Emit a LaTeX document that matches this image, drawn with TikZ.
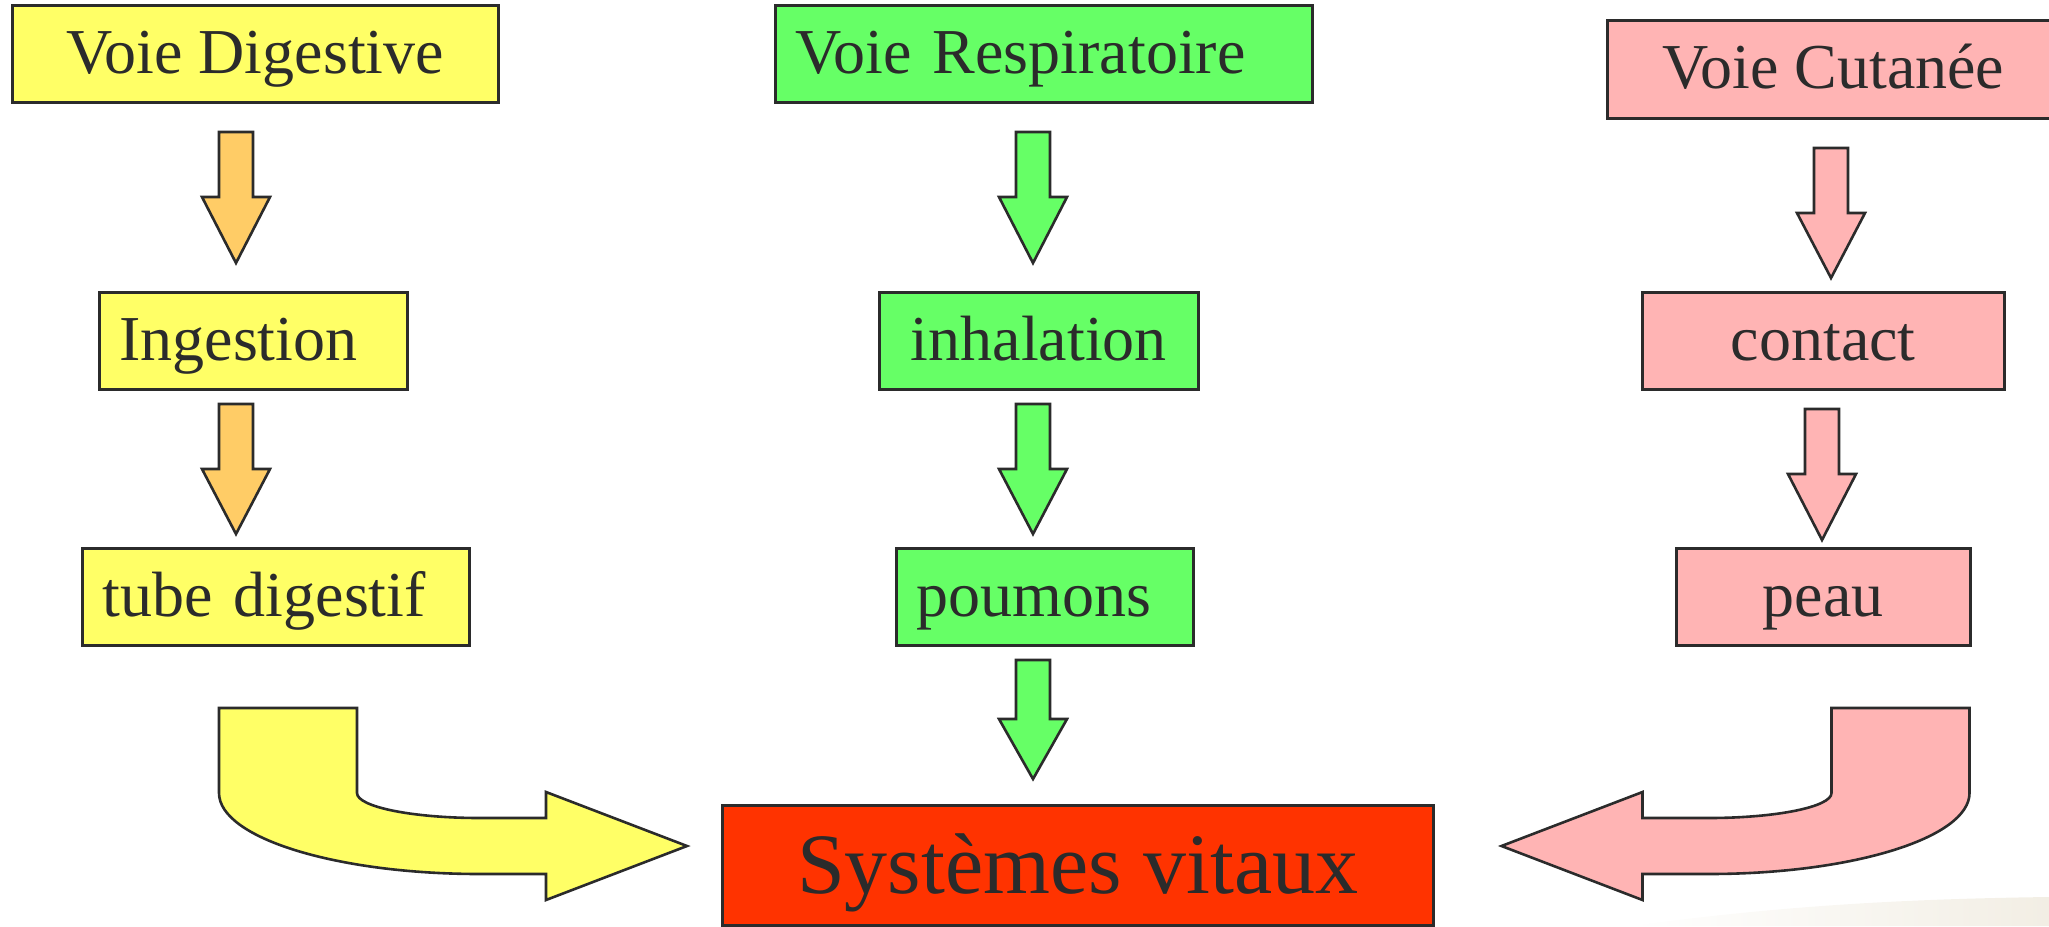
\documentclass[tikz,border=0pt]{standalone}
\usepackage{fontspec}
\setmainfont{Liberation Serif}
\definecolor{jaune}{HTML}{FFFF66}
\definecolor{orangec}{HTML}{FFCC66}
\definecolor{vert}{HTML}{66FF66}
\definecolor{rose}{HTML}{FFB4B4}
\definecolor{rouge}{HTML}{FF3300}
\definecolor{trait}{HTML}{2B2B2B}
\definecolor{encre}{HTML}{2B2B2B}
\definecolor{sable}{HTML}{F2EEE4}

% block arrow pointing down: centre x, top, shoulder, tip, fill colour
\newcommand{\flechebas}[5]{%
  \draw[bloc, fill=#5] (#1-17,#2) -- (#1+17,#2) -- (#1+17,#3) -- (#1+34,#3)
    -- (#1,#4) -- (#1-34,#3) -- (#1-17,#3) -- cycle;}

\tikzset{
  bloc/.style={draw=trait, line width=2.6pt, line join=miter},
  boite/.style={draw=trait, line width=2.6pt, inner sep=0pt, anchor=north west,
    text height=68pt, text depth=29pt, text=encre,
    font=\fontsize{64}{70}\selectfont},
  gauche/.style={text width=#1, inner xsep=20pt, align=left},
}

\begin{document}
\begin{tikzpicture}[x=1pt, y=-1pt]
\useasboundingbox (0,0) rectangle (2049,926);

% pale sweep in the lower right corner
\shade[left color=white, right color=sable]
  (1630,926) .. controls (1780,906) and (1900,899) .. (2049,897) -- (2049,926) -- cycle;

% ---- first row: the three routes
\node[boite, fill=jaune, minimum width=486pt] (dig0) at (11,4) {Voie Digestive};
\node[boite, fill=vert, gauche=497pt] (resp0) at (774,4) {Voie Respiratoire};
\node[boite, fill=rose, minimum width=452pt, text height=68pt, text depth=30pt] (cut0) at (1606,19) {Voie Cutanée};

% ---- second row
\node[boite, fill=jaune, gauche=268pt] (dig1) at (98,291) {Ingestion};
\node[boite, fill=vert, minimum width=319pt] (resp1) at (878,291) {inhalation};
\node[boite, fill=rose, minimum width=362pt] (cut1) at (1641,291) {contact};

% ---- third row
\node[boite, fill=jaune, gauche=347pt] (dig2) at (81,547) {tube digestif};
\node[boite, fill=vert, gauche=257pt] (resp2) at (895,547) {poumons};
\node[boite, fill=rose, minimum width=294pt] (cut2) at (1675,547) {peau};

% ---- target
\node[boite, fill=rouge, minimum width=711pt, text height=88pt, text depth=32pt,
      font=\fontsize{86}{92}\selectfont] (sys) at (721,804) {Systèmes vitaux};

% ---- straight block arrows
\flechebas{236}{132}{197}{263}{orangec}
\flechebas{236}{404}{469}{534}{orangec}
\flechebas{1033}{132}{197}{263}{vert}
\flechebas{1033}{404}{469}{534}{vert}
\flechebas{1033}{660}{719}{779}{vert}
\flechebas{1831}{148}{213}{278}{rose}
\flechebas{1822}{409}{474}{540}{rose}

% ---- bent arrow from the digestive route
\draw[bloc, fill=jaune]
  (219,708) -- (357,708) -- (357,793)
  .. controls (357,806.8) and (412,818) .. (480,818)
  -- (546,818) -- (546,792) -- (687,846) -- (546,900) -- (546,874) -- (480,874)
  .. controls (335.9,874) and (219,837.7) .. (219,793) -- cycle;

% ---- bent arrow from the skin route
\draw[bloc, fill=rose]
  (1969.5,708) -- (1831.5,708) -- (1831.5,793)
  .. controls (1831.5,806.8) and (1776.5,818) .. (1708.5,818)
  -- (1642.5,818) -- (1642.5,792) -- (1501.5,846) -- (1642.5,900) -- (1642.5,874) -- (1708.5,874)
  .. controls (1852.6,874) and (1969.5,837.7) .. (1969.5,793) -- cycle;
\end{tikzpicture}
\end{document}
